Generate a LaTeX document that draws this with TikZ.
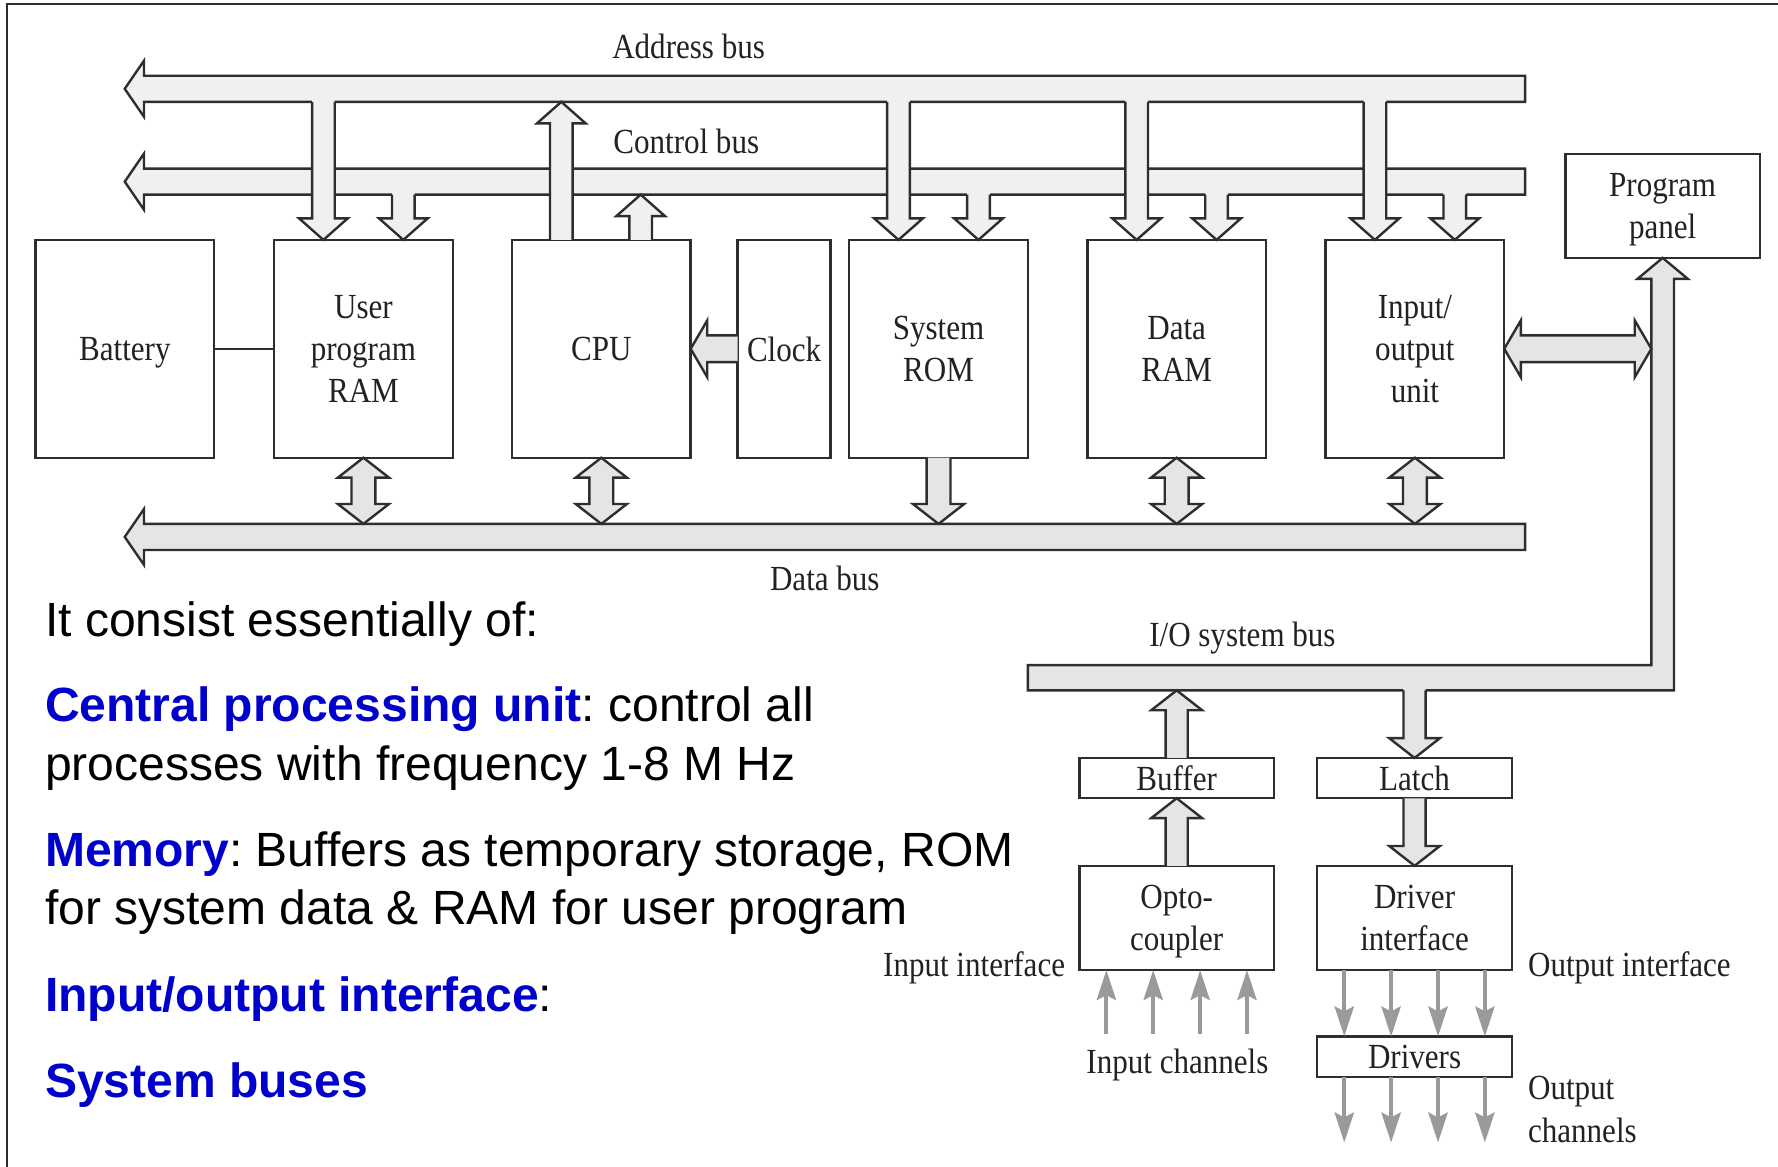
\documentclass[tikz,border=0pt]{standalone}
\usepackage{fontspec}
\setmainfont{Liberation Serif}[FakeStretch=0.88]
\newfontfamily\sanstext{Liberation Sans}
\usetikzlibrary{calc,arrows.meta}

\definecolor{edgecol}{HTML}{2E2E2E}
\definecolor{inkcol}{HTML}{222222}
\definecolor{fillA}{HTML}{EFF0F0}
\definecolor{fillB}{HTML}{E5E5E5}
\definecolor{chancol}{HTML}{9A9A9A}
\definecolor{headblue}{HTML}{0000CC}

% shaft half width, head half width, head length of the fat bus arrows
\newcommand\setfat[3]{\def\sw{#1}\def\hw{#2}\def\hl{#3}}

% fat arrow pointing down: #1 flat end, #2 tip, #3 overlap into a bus, #4 fill
\newcommand\fatdown[4]{%
  \coordinate (fa) at (#1); \coordinate (ft) at (#2);
  \fill[#4] ($(fa)+(-\sw,-#3)$) -- ($(ft)+(-\sw,-\hl)$) -- ($(ft)+(-\hw,-\hl)$) -- (ft)
     -- ($(ft)+(\hw,-\hl)$) -- ($(ft)+(\sw,-\hl)$) -- ($(fa)+(\sw,-#3)$) -- cycle;
  \draw[edge] ($(fa)+(-\sw,0)$) -- ($(ft)+(-\sw,-\hl)$) -- ($(ft)+(-\hw,-\hl)$) -- (ft)
     -- ($(ft)+(\hw,-\hl)$) -- ($(ft)+(\sw,-\hl)$) -- ($(fa)+(\sw,0)$);
}
% fat arrow pointing up
\newcommand\fatup[4]{%
  \coordinate (fa) at (#1); \coordinate (ft) at (#2);
  \fill[#4] ($(fa)+(-\sw,#3)$) -- ($(ft)+(-\sw,\hl)$) -- ($(ft)+(-\hw,\hl)$) -- (ft)
     -- ($(ft)+(\hw,\hl)$) -- ($(ft)+(\sw,\hl)$) -- ($(fa)+(\sw,#3)$) -- cycle;
  \draw[edge] ($(fa)+(-\sw,0)$) -- ($(ft)+(-\sw,\hl)$) -- ($(ft)+(-\hw,\hl)$) -- (ft)
     -- ($(ft)+(\hw,\hl)$) -- ($(ft)+(\sw,\hl)$) -- ($(fa)+(\sw,0)$);
}
% fat arrow pointing left
\newcommand\fatleft[4]{%
  \coordinate (fa) at (#1); \coordinate (ft) at (#2);
  \fill[#4] ($(fa)+(#3,-\sw)$) -- ($(ft)+(\hl,-\sw)$) -- ($(ft)+(\hl,-\hw)$) -- (ft)
     -- ($(ft)+(\hl,\hw)$) -- ($(ft)+(\hl,\sw)$) -- ($(fa)+(#3,\sw)$) -- cycle;
  \draw[edge] ($(fa)+(0,-\sw)$) -- ($(ft)+(\hl,-\sw)$) -- ($(ft)+(\hl,-\hw)$) -- (ft)
     -- ($(ft)+(\hl,\hw)$) -- ($(ft)+(\hl,\sw)$) -- ($(fa)+(0,\sw)$);
}
% fat two-headed vertical arrow: #1 upper tip, #2 lower tip, #3 fill
\newcommand\fatvv[3]{%
  \coordinate (ft) at (#1); \coordinate (fb) at (#2);
  \filldraw[edge,fill=#3] (ft) -- ($(ft)+(\hw,\hl)$) -- ($(ft)+(\sw,\hl)$) -- ($(fb)+(\sw,-\hl)$)
     -- ($(fb)+(\hw,-\hl)$) -- (fb) -- ($(fb)+(-\hw,-\hl)$) -- ($(fb)+(-\sw,-\hl)$)
     -- ($(ft)+(-\sw,\hl)$) -- ($(ft)+(-\hw,\hl)$) -- cycle;
}
% fat two-headed horizontal arrow: #1 left tip, #2 right tip, #3 fill
\newcommand\fathh[3]{%
  \coordinate (fl) at (#1); \coordinate (fr) at (#2);
  \filldraw[edge,fill=#3] (fl) -- ($(fl)+(\hl,-\hw)$) -- ($(fl)+(\hl,-\sw)$) -- ($(fr)+(-\hl,-\sw)$)
     -- ($(fr)+(-\hl,-\hw)$) -- (fr) -- ($(fr)+(-\hl,\hw)$) -- ($(fr)+(-\hl,\sw)$)
     -- ($(fl)+(\hl,\sw)$) -- ($(fl)+(\hl,\hw)$) -- cycle;
}

\tikzset{
  edge/.style={draw=edgecol, line width=0.6pt, line join=miter},
  box/.style={draw=edgecol, line width=0.6pt, fill=white, inner sep=0pt, outer sep=0pt,
    align=center, text=inkcol, text depth=0pt, font=\fontsize{8.85}{10.5}\selectfont},
  lab/.style={inner sep=0pt, text=inkcol, font=\fontsize{8.85}{10.5}\selectfont},
  para/.style={inner sep=0pt, text=black, font=\sanstext\fontsize{12.05}{14}\selectfont\frenchspacing},
  chan/.style={draw=chancol, line width=1pt, -{Stealth[length=7.5pt,width=4.8pt,inset=1.2pt]}},
  bigbox/.style={box, minimum width=1.575cm, minimum height=1.92cm},
  smallbox/.style={box, minimum width=1.715cm, minimum height=0.355cm},
  midbox/.style={box, minimum width=1.715cm, minimum height=0.919cm},
}

\begin{document}
\begin{tikzpicture}[x=0.01cm, y=-0.01cm]
\useasboundingbox (0,0) rectangle (1568,1029);

% page frame
\draw[edgecol, line width=0.5pt] (6.1,1029) -- (6.1,3.8) -- (1568,3.8);

% processor board
\node[bigbox, minimum width=1.574cm] (battery) at (110.1,307.6) {Battery};
\node[bigbox] (ram)   at (320.5,307.6) {User\\program\\RAM};
\node[bigbox] (cpu)   at (530.3,307.6) {CPU};
\node[bigbox, minimum width=0.82cm] (clock) at (691.5,307.6) {Clock};
\node[bigbox] (rom)   at (827.7,307.6) {System\\ROM};
\node[bigbox] (dram)  at (1037.7,307.6) {Data\\RAM};
\node[bigbox] (io)    at (1247.8,307.6) {Input/\\output\\unit};
\node[box, minimum width=1.714cm, minimum height=0.914cm] (panel) at (1466.3,181.7) {Program\\panel};

% input/output section
\node[smallbox] (buffer)  at (1037.7,686.2) {Buffer};
\node[smallbox] (latch)   at (1247.5,686.2) {Latch};
\node[midbox]   (opto)    at (1037.7,809.5) {Opto-\\coupler};
\node[midbox]   (driver)  at (1247.5,809.5) {Driver\\interface};
\node[smallbox] (drivers) at (1247.5,931.8) {Drivers};

\draw[edge] (battery.east) -- (ram.west);

% bus edges
\coordinate (aT) at (0,66.8);  \coordinate (aB) at (0,89.8);
\coordinate (cT) at (0,148.7); \coordinate (cB) at (0,171.6);
\coordinate (dT) at (0,462);   \coordinate (dB) at (0,485);
\coordinate (ioT) at (0,586.5); \coordinate (ioB) at (0,608.8);

% address, control and data buses
\filldraw[edge, fill=fillA] (1345,66.8) -- (127,66.8) -- (127,53.5) -- (110,78.3)
  -- (127,103) -- (127,89.8) -- (1345,89.8) -- cycle;
\filldraw[edge, fill=fillA] (1345,148.7) -- (127,148.7) -- (127,135.4) -- (110,160.2)
  -- (127,185) -- (127,171.6) -- (1345,171.6) -- cycle;
\filldraw[edge, fill=fillB] (1345,462) -- (127,462) -- (127,448.8) -- (110,473.5)
  -- (127,498.2) -- (127,485) -- (1345,485) -- cycle;

% I/O system bus rising to the program panel
\coordinate (pt) at (panel.south);
\coordinate (pbL) at ($(pt)+(-10,0)$);
\coordinate (pbR) at ($(pt)+(10,0)$);
\filldraw[edge, fill=fillB] (906.5,586.5) -- (pbL|-ioT) -- ($(pbL)+(0,18.5)$)
  -- ($(pt)+(-22.2,18.5)$) -- (pt) -- ($(pt)+(22.2,18.5)$) -- ($(pbR)+(0,18.5)$)
  -- (pbR|-ioB) -- (906.5,608.8) -- cycle;

% address and control lines into the memories and the I/O unit
\setfat{10}{21.5}{19}
\foreach \b in {ram,rom,dram,io} {
  \coordinate (ax) at ($(\b.north west)+(43.5,0)$);
  \coordinate (cx) at ($(\b.north west)+(114,0)$);
  \fatdown{cx|-cB}{cx}{2}{fillA}
  \fatdown{ax|-aB}{ax}{2}{fillA}
}
% CPU drives both buses
\coordinate (cpua) at ($(cpu.north west)+(43.5,0)$);
\coordinate (cpuc) at ($(cpu.north west)+(113.5,0)$);
\fatup{cpuc}{cpuc|-cB}{0}{fillA}
\fatup{cpua}{cpua|-aB}{0}{fillA}

% data bus connections
\setfat{10.5}{22.5}{17.5}
\foreach \b in {ram,cpu,dram,io} {
  \fatvv{\b.south}{\b.south|-dT}{fillB}
}
\fatdown{rom.south}{rom.south|-dT}{0}{fillB}

% clock and I/O unit links
\setfat{11.8}{25}{14.6}
\fatleft{clock.west}{cpu.east}{0}{fillB}
\fathh{io.east}{io.east-|pbL}{fillB}

% input and output paths
\setfat{9.8}{22.4}{17.5}
\fatup{buffer.north}{buffer.north|-ioB}{0}{fillB}
\fatdown{latch.north|-ioB}{latch.north}{2}{fillB}
\fatup{opto.north}{buffer.south}{0}{fillB}
\fatdown{latch.south}{driver.north}{0}{fillB}

% channels
\foreach \dx in {-62,-20.7,20.7,62} {
  \draw[chan] ($(opto.south)+(\dx,56.4)$) -- ($(opto.south)+(\dx,0)$);
  \draw[chan] ($(driver.south)+(\dx,0)$) -- ($(drivers.north)+(\dx,0)$);
  \draw[chan] ($(drivers.south)+(\dx,0)$) -- ($(drivers.south)+(\dx,58)$);
}

% labels
\node[lab, anchor=base] (laddr) at (607.3,52) {Address bus};
\node[lab, anchor=base] (lctrl) at (605.2,135.2) {Control bus};
\node[lab, anchor=base] (ldata) at (727.4,520.5) {Data bus};
\node[lab, anchor=base] (lio)   at (1095.7,570.5) {I/O system bus};
\node[lab, anchor=base east] (lin)  at (940,861.5) {Input interface};
\node[lab, anchor=base west] (lout) at (1346.9,861.5) {Output interface};
\node[lab, anchor=base] (lich) at (1038.4,946.5) {Input channels};
\node[lab, anchor=base west] (loch1) at (1346.9,969.5) {Output};
\node[lab, anchor=base west] (loch2) at (1346.9,1007.5) {channels};

% notes
\node[para, anchor=base west] (n0) at (39,561) {It consist essentially of:};
\node[para, anchor=base west] (n1) at (39,636.5) {\textcolor{headblue}{\bfseries Central processing unit}: control all};
\node[para, anchor=base west] (n1b) at (39,688) {processes with frequency 1-8 M Hz};
\node[para, anchor=base west] (n2) at (39,764) {\textcolor{headblue}{\bfseries Memory}: Buffers as temporary storage, ROM};
\node[para, anchor=base west] (n2b) at (39,815) {for system data \& RAM for user program};
\node[para, anchor=base west] (n3) at (39,892) {\textcolor{headblue}{\bfseries Input/output interface}:};
\node[para, anchor=base west] (n4) at (39,968) {\textcolor{headblue}{\bfseries System buses}};
\end{tikzpicture}
\end{document}
